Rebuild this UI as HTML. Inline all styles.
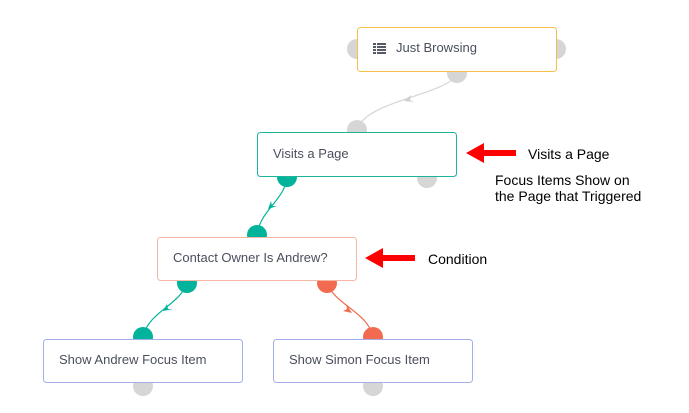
<!DOCTYPE html>
<html><head><style>
body{margin:0;width:689px;height:408px;background:#fff;overflow:hidden}
</style></head><body>
<svg width="689" height="408" xmlns="http://www.w3.org/2000/svg" style="font-family:'Liberation Sans',sans-serif">
<g fill="#d6d6d6">
<circle cx="357" cy="49" r="10"/><circle cx="556" cy="49" r="10"/><circle cx="457" cy="73" r="10"/>
<circle cx="357" cy="130" r="10"/><circle cx="427" cy="178" r="10"/>
<circle cx="143" cy="386" r="10"/><circle cx="373" cy="386" r="10"/>
</g>
<g fill="#00b39a">
<circle cx="287" cy="177" r="10"/><circle cx="257" cy="235" r="10"/><circle cx="187" cy="283" r="10"/><circle cx="143" cy="337" r="10"/>
</g>
<g fill="#f26b50"><circle cx="327" cy="283" r="10"/><circle cx="373" cy="337" r="10"/></g>
<g fill="none" stroke-width="1.2">
<path d="M457 73 C450 95 365 100 357 130" stroke="#d6d6d6"/>
<path d="M287 177 C285 200 260 210 257 235" stroke="#00b39a"/>
<path d="M187 283 C180 305 148 312 143 337" stroke="#00b39a"/>
<path d="M327 283 C335 305 368 312 373 337" stroke="#f26b50"/>
</g>
<path d="M404 101 l7 -6 l-1 5 l4 2 z" fill="#d0d0d0"/>
<path d="M268 209 l3 -8 l1 5 l5 0 z" fill="#00b39a"/>
<path d="M163 311 l4 -7 l1 5 l5 0 z" fill="#00b39a"/>
<path d="M352 313 l-9 -2 l4 -2 l-1 -5 z" fill="#f26b50"/>
<rect x="357.5" y="27.5" width="199" height="44" rx="3" fill="#fff" stroke="#f5c04a"/>
<rect x="257.5" y="132.5" width="199" height="44" rx="3" fill="#fff" stroke="#1cb59c"/>
<rect x="157.5" y="237.5" width="199" height="43" rx="3" fill="#fff" stroke="#f7b7a5"/>
<rect x="43.5" y="339.5" width="199" height="43" rx="3" fill="#fff" stroke="#a3aeea"/>
<rect x="273.5" y="339.5" width="199" height="43" rx="3" fill="#fff" stroke="#a3aeea"/>
<g fill="#555a66">
<rect x="373" y="43" width="3" height="2"/><rect x="377" y="43" width="9" height="2"/>
<rect x="373" y="46" width="3" height="2"/><rect x="377" y="46" width="9" height="2"/>
<rect x="373" y="49" width="3" height="2"/><rect x="377" y="49" width="9" height="2"/>
<rect x="373" y="52" width="3" height="2"/><rect x="377" y="52" width="9" height="2"/>
</g>
<g font-size="13" fill="#4a4f5c">
<text x="396" y="52">Just Browsing</text>
<text x="273" y="158">Visits a Page</text>
<text x="173" y="262">Contact Owner Is Andrew?</text>
<text x="59" y="364">Show Andrew Focus Item</text>
<text x="289" y="364">Show Simon Focus Item</text>
</g>
<g fill="#ff0000">
<rect x="482" y="150" width="34" height="6"/><path d="M466 153 L484 143 L484 163 Z"/>
<rect x="381" y="255" width="34" height="6"/><path d="M365 258 L383 248 L383 268 Z"/>
</g>
<g font-size="14" fill="#000">
<text x="528" y="159">Visits a Page</text>
<text x="495" y="185">Focus Items Show on</text>
<text x="495" y="201">the Page that Triggered</text>
<text x="428" y="264">Condition</text>
</g>
</svg>
</body></html>
